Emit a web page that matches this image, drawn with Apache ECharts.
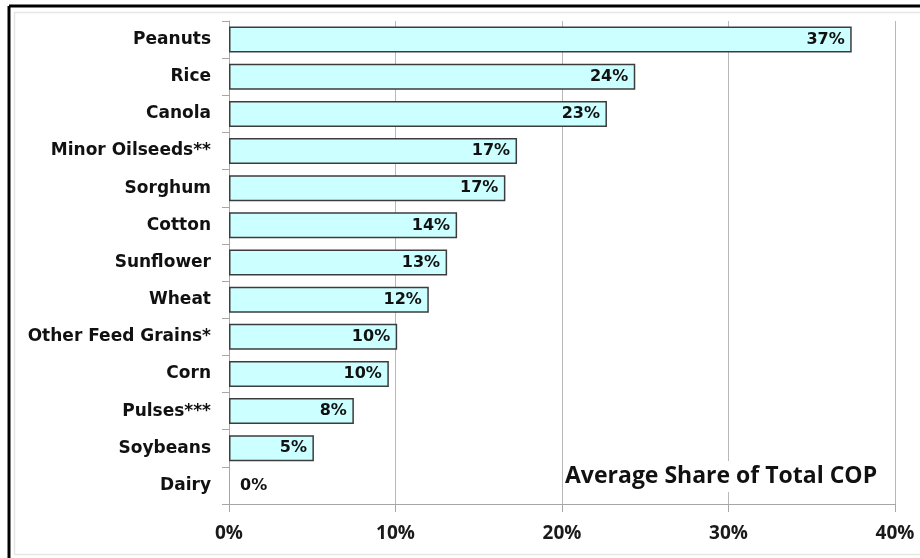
<!DOCTYPE html>
<html>
<head>
<meta charset="utf-8">
<script src="https://cdn.jsdelivr.net/npm/echarts@6/dist/echarts.min.js"></script>
<style>
	html, body { margin: 0; padding: 0; background: #fff; }
	#chart { width: 920px; height: 558px; }
</style>
</head>
<body>
<div id="chart"></div>
<script>
// crops, top to bottom
const categories = ['Peanuts', 'Rice', 'Canola', 'Minor Oilseeds**', 'Sorghum', 'Cotton', 'Sunflower', 'Wheat', 'Other Feed Grains*', 'Corn', 'Pulses***', 'Soybeans', 'Dairy']
// average share of total COP, percent
const shares = [37.4, 24.4, 22.7, 17.3, 16.6, 13.7, 13.1, 12.0, 10.1, 9.6, 7.5, 5.1, 0]
const xTicks = [0, 10, 20, 30, 40]

const chart = echarts.init(document.getElementById('chart'))

const barData = shares.map((v) => {
	if (v === 0) {
		// no bar to put the label in, so it sits beside the axis
		return { value: v, itemStyle: { borderWidth: 0 }, label: { position: 'right', distance: 11 } }
	}
	return v
})

chart.setOption({
	animation: false,
	backgroundColor: '#fff',
	grid: { left: 229, right: 25, top: 21, bottom: 54 },
	xAxis: {
		type: 'value',
		min: xTicks[0],
		max: xTicks[xTicks.length - 1],
		interval: 10,
		axisLine: { show: true, lineStyle: { color: '#a6a6a6', width: 1 } },
		axisTick: { show: true, length: 8, lineStyle: { color: '#a6a6a6' } },
		splitLine: { show: true, lineStyle: { color: '#b8b8b8', width: 1 } },
		axisLabel: {
			margin: 20,
			formatter: '{value}%',
			color: '#1a1a1a',
			fontFamily: 'Open Sans',
			fontWeight: 'bold',
			fontSize: 19
		}
	},
	yAxis: {
		type: 'category',
		inverse: true,
		data: categories,
		axisLine: { show: true, lineStyle: { color: '#a6a6a6', width: 1 } },
		axisTick: { show: true, length: 7, lineStyle: { color: '#a6a6a6' } },
		axisLabel: {
			margin: 18,
			color: '#111',
			fontFamily: 'DejaVu Sans',
			fontWeight: 'bold',
			fontSize: 17
		}
	},
	series: [
		{
			type: 'bar',
			data: barData,
			barCategoryGap: '30%',
			itemStyle: {
				color: '#ccffff',
				borderColor: '#3c3c3c',
				borderWidth: 1.5
			},
			label: {
				show: true,
				position: 'insideRight',
				distance: 7,
				color: '#111',
				fontFamily: 'DejaVu Sans',
				fontWeight: 'bold',
				fontSize: 16,
				formatter: p => Math.round(p.value) + '%'
			}
		}
	],
	graphic: [
		// frame of the pasted picture
		{ type: 'line', z: 100, shape: { x1: 9, y1: 6, x2: 920, y2: 6 }, style: { stroke: '#000', lineWidth: 3 } },
		{ type: 'line', z: 100, shape: { x1: 9, y1: 6, x2: 9, y2: 558 }, style: { stroke: '#000', lineWidth: 3 } },
		{ type: 'line', z: 100, shape: { x1: 14, y1: 12.5, x2: 920, y2: 12.5 }, style: { stroke: '#e6e6e6', lineWidth: 1.5 } },
		{ type: 'line', z: 100, shape: { x1: 14.5, y1: 12, x2: 14.5, y2: 555 }, style: { stroke: '#e6e6e6', lineWidth: 1.5 } },
		{ type: 'line', z: 100, shape: { x1: 14, y1: 554.5, x2: 920, y2: 554.5 }, style: { stroke: '#e6e6e6', lineWidth: 1.5 } },
		{
			type: 'text',
			z: 100,
			left: 563,
			top: 461,
			style: {
				text: 'Average Share of Total COP',
				fill: '#111',
				font: 'bold 23px "Open Sans"',
				backgroundColor: '#fff',
				padding: [4, 2, 4, 2]
			}
		}
	]
})
</script>
</body>
</html>
